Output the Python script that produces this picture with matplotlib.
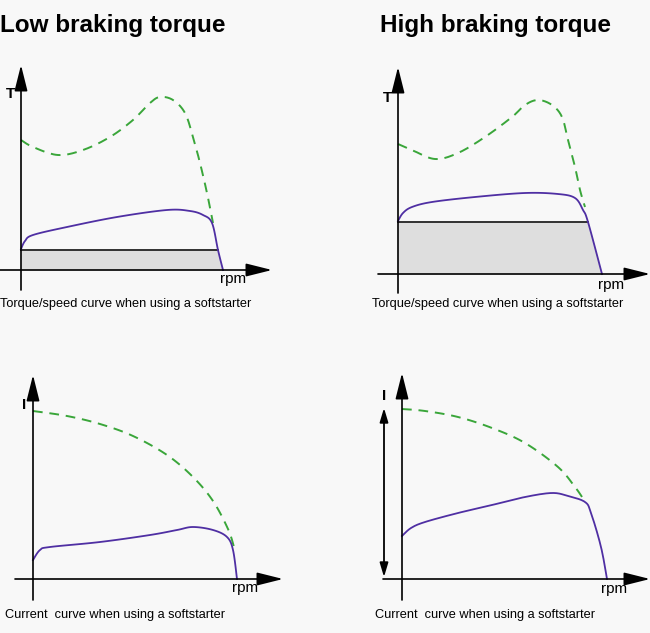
import matplotlib
matplotlib.use("Agg")
import matplotlib.pyplot as plt
import numpy as np

plt.rcParams["font.family"] = ["Liberation Sans", "DejaVu Sans"]

W, H = 650, 633
BG = "#f8f8f8"
GREEN = "#3aa63a"
PURPLE = "#4f2fa3"
FILL = "#dedede"

# values, in diagram units (x = speed, y = torque/current)
low_torque_dol_x = [0, 12, 37, 62, 89, 112, 129, 139, 152, 164, 172, 179, 186, 192]
low_torque_dol_y = [130, 123, 115, 120, 133, 150, 167, 173, 170, 157, 133, 107, 77, 47]
low_torque_ss_x = [0, 4, 12, 46, 96, 146, 169, 182, 191, 197, 202]
low_torque_ss_y = [21, 29, 35, 43, 53, 60, 59, 55, 47, 20, 0]
low_brake = 20

high_torque_dol_x = [0, 14, 37, 60, 87, 114, 127, 140, 154, 164, 170, 177, 182, 187]
high_torque_dol_y = [130, 124, 115, 121, 137, 157, 169, 174, 169, 157, 134, 107, 84, 67]
high_torque_ss_x = [0, 5, 14, 34, 77, 127, 160, 177, 185, 190, 204]
high_torque_ss_y = [53, 61, 67, 72, 77, 81, 80, 76, 64, 52, 0]
high_brake = 52

low_current_dol_x = [0, 34, 67, 100, 134, 160, 180, 195, 201]
low_current_dol_y = [168, 163, 155, 143, 124, 102, 78, 50, 32]
low_current_ss_x = [0, 7, 17, 67, 117, 144, 160, 180, 194, 200, 204]
low_current_ss_y = [19, 29, 32, 37, 44, 49, 52, 49, 42, 29, 0]

high_current_dol_x = [0, 23, 56, 90, 123, 156, 173, 182]
high_current_dol_y = [170, 168, 162, 151, 136, 112, 92, 79]
high_current_ss_x = [0, 9, 23, 56, 90, 123, 150, 166, 183, 189, 199, 205]
high_current_ss_y = [43, 51, 57, 66, 74, 82, 86, 83, 77, 66, 32, 0]

titles = ["Low braking torque", "High braking torque"]
torque_caption = "Torque/speed curve when using a softstarter"
current_caption = "Current  curve when using a softstarter"

# panel origins (pixel position of the axis crossing, from top-left)
ORIGINS = [(21, 270), (398, 274), (33, 579), (402, 579)]
XLO, XHI, YLO, YHI = -25, 255, -32, 215


def smooth(x, y):
    # Catmull-Rom through the read points
    pts = np.c_[np.asarray(x, float), np.asarray(y, float)]
    P = np.vstack([pts[0], pts, pts[-1]])
    px, py = [], []
    for i in range(1, len(P) - 2):
        p0, p1, p2, p3 = P[i - 1], P[i], P[i + 1], P[i + 2]
        for s in np.linspace(0, 1, 12, endpoint=False):
            s2, s3 = s * s, s * s * s
            v = 0.5 * ((2 * p1) + (-p0 + p2) * s + (2 * p0 - 5 * p1 + 4 * p2 - p3) * s2
                       + (-p0 + 3 * p1 - 3 * p2 + p3) * s3)
            px.append(v[0])
            py.append(v[1])
    px.append(pts[-1, 0])
    py.append(pts[-1, 1])
    return np.array(px), np.array(py)


def make_axes(fig, origin):
    ox, oy = origin
    left = (ox + XLO) / W
    bottom = (H - (oy - YLO)) / H
    ax = fig.add_axes([left, bottom, (XHI - XLO) / W, (YHI - YLO) / H])
    ax.set_xlim(XLO, XHI)
    ax.set_ylim(YLO, YHI)
    ax.axis("off")
    return ax


def draw_axes(ax, x0, x1, y0, y1, ylab, lab_pos, rpm_pos):
    head = dict(arrowstyle="-|>,head_length=0.8,head_width=0.2", mutation_scale=20,
                lw=1.2, color="black", shrinkA=0, shrinkB=0)
    ax.annotate("", xy=(x1, 0), xytext=(x0, 0), arrowprops=head)
    ax.annotate("", xy=(0, y1), xytext=(0, y0), arrowprops=head)
    ax.text(lab_pos[0], lab_pos[1], ylab, fontsize=11, fontweight="bold",
            ha="center", va="center")
    ax.text(rpm_pos[0], rpm_pos[1], "rpm", fontsize=11, ha="center", va="center")


def torque_panel(ax, dx, dy, sx, sy, brake, axis_ext, lab_pos, rpm_pos):
    gx, gy = smooth(dx, dy)
    px, py = smooth(sx, sy)
    # braking region under the softstarter curve
    ax.fill_between(px, 0, np.minimum(py, brake), color=FILL, lw=0)
    k = np.argmax(py)
    cross = np.interp(brake, py[k:][::-1], px[k:][::-1])
    ax.plot([0, cross], [brake, brake], color="#222222", lw=1.3)
    ax.plot(gx, gy, color=GREEN, lw=1.4, dashes=(5, 3.5))
    ax.plot(px, py, color=PURPLE, lw=1.3)
    draw_axes(ax, *axis_ext, "T", lab_pos, rpm_pos)


def current_panel(ax, dx, dy, sx, sy, axis_ext, lab_pos, rpm_pos):
    gx, gy = smooth(dx, dy)
    px, py = smooth(sx, sy)
    ax.plot(gx, gy, color=GREEN, lw=1.4, dashes=(5, 3.5))
    ax.plot(px, py, color=PURPLE, lw=1.3)
    draw_axes(ax, *axis_ext, "I", lab_pos, rpm_pos)


fig = plt.figure(figsize=(W / 100, H / 100), dpi=100, facecolor=BG)

ax1 = make_axes(fig, ORIGINS[0])
torque_panel(ax1, low_torque_dol_x, low_torque_dol_y, low_torque_ss_x, low_torque_ss_y,
             low_brake, (-21, 251, -20, 205), (-10, 176), (212, -9))
ax2 = make_axes(fig, ORIGINS[1])
torque_panel(ax2, high_torque_dol_x, high_torque_dol_y, high_torque_ss_x, high_torque_ss_y,
             high_brake, (-20, 252, -19, 207), (-11, 176), (213, -11))
ax3 = make_axes(fig, ORIGINS[2])
current_panel(ax3, low_current_dol_x, low_current_dol_y, low_current_ss_x, low_current_ss_y,
              (-18, 250, -21, 204), (-9, 174), (212, -9))
ax4 = make_axes(fig, ORIGINS[3])
current_panel(ax4, high_current_dol_x, high_current_dol_y, high_current_ss_x, high_current_ss_y,
              (-19, 248, -21, 206), (-18, 183), (212, -10))
ax4.annotate("", xy=(-18, 2), xytext=(-18, 171),
             arrowprops=dict(arrowstyle="<|-|>,head_length=0.6,head_width=0.18",
                             mutation_scale=14, lw=1.3, color="black",
                             shrinkA=0, shrinkB=0))


# titles and captions in pixel coordinates
def px_text(x, y, s, **kw):
    fig.text(x / W, 1 - y / H, s, **kw)


px_text(0, 32, titles[0], fontsize=17.5, fontweight="bold", va="baseline")
px_text(380, 32, titles[1], fontsize=17.5, fontweight="bold", va="baseline")
px_text(0, 304, torque_caption, fontsize=9.2, va="center")
px_text(372, 304, torque_caption, fontsize=9.2, va="center")
px_text(5, 615, current_caption, fontsize=9.2, va="center")
px_text(375, 615, current_caption, fontsize=9.2, va="center")

fig.savefig("out.png", dpi=100, facecolor=BG)
